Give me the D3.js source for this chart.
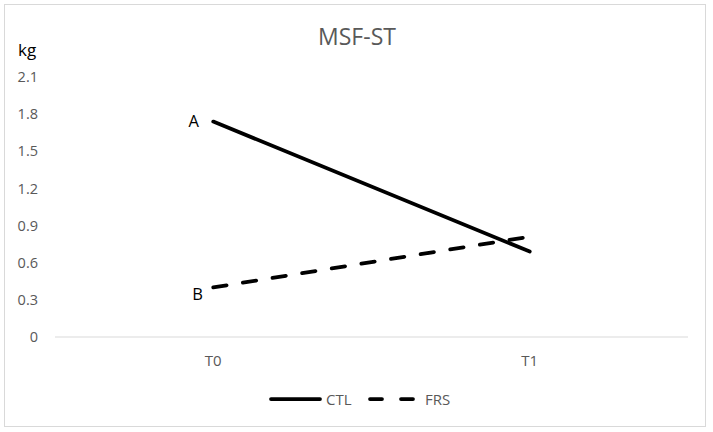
<!DOCTYPE html>
<html>
<head>
<meta charset="utf-8">
<script src="https://d3js.org/d3.v7.min.js"></script>
<style>
  body { margin: 0; background: #fff; }
  text { font-family: "Open Sans", "Liberation Sans", sans-serif; }
</style>
</head>
<body>
<svg width="713" height="432"></svg>
<script>
var categories = ["T0", "T1"];
var yTicks = [0, 0.3, 0.6, 0.9, 1.2, 1.5, 1.8, 2.1];
var ctl = [1.74, 0.69];
var frs = [0.40, 0.81];
var pointLabels = ["A", "B"];

var svg = d3.select("svg");

svg.append("rect")
    .attr("x", 4.5).attr("y", 4.5)
    .attr("width", 701).attr("height", 422)
    .attr("fill", "#fff")
    .attr("stroke", "#d9d9d9");

var x = d3.scaleBand()
    .domain(categories)
    .range([55, 688]);

var y = d3.scaleLinear()
    .domain([0, 2.1])
    .range([337, 77]);

// y axis labels, no line
var yAxis = svg.append("g")
    .attr("transform", "translate(38,0)")
    .call(d3.axisLeft(y).tickValues(yTicks).tickSize(0).tickPadding(0)
        .tickFormat(function(d) { return d === 0 ? "0" : d3.format(".1f")(d); }));
yAxis.select(".domain").remove();
yAxis.selectAll("text")
    .attr("fill", "#595959")
    .attr("font-size", 14.5);

// baseline
svg.append("line")
    .attr("x1", 55).attr("x2", 688)
    .attr("y1", y(0)).attr("y2", y(0))
    .attr("stroke", "#d9d9d9");

var xAxis = svg.append("g")
    .attr("transform", "translate(0," + (y(0) + 18) + ")")
    .call(d3.axisBottom(x).tickSize(0).tickPadding(0));
xAxis.select(".domain").remove();
xAxis.selectAll("text")
    .attr("fill", "#595959")
    .attr("font-size", 15);

var line = d3.line()
    .x(function(d, i) { return x(categories[i]) + x.bandwidth() / 2; })
    .y(function(d) { return y(d); });

svg.append("path")
    .datum(ctl)
    .attr("d", line)
    .attr("fill", "none")
    .attr("stroke", "#000")
    .attr("stroke-width", 3.75)
    .attr("stroke-linecap", "round");

svg.append("path")
    .datum(frs)
    .attr("d", line)
    .attr("fill", "none")
    .attr("stroke", "#000")
    .attr("stroke-width", 3.75)
    .attr("stroke-linecap", "round")
    .attr("stroke-dasharray", "13.5,16.5");

// point labels at T0
var x0 = x(categories[0]) + x.bandwidth() / 2;
svg.append("text")
    .attr("x", 199).attr("y", 127)
    .attr("text-anchor", "end")
    .attr("font-size", 16.5)
    .attr("fill", "#000")
    .text(pointLabels[0]);
svg.append("text")
    .attr("x", 203).attr("y", 300)
    .attr("text-anchor", "end")
    .attr("font-size", 16.5)
    .attr("fill", "#000")
    .text(pointLabels[1]);

// title and unit
svg.append("text")
    .attr("x", 357).attr("y", 45)
    .attr("text-anchor", "middle")
    .attr("font-size", 23)
    .attr("fill", "#595959")
    .text("MSF-ST");

svg.append("text")
    .attr("x", 18).attr("y", 56)
    .attr("font-size", 17)
    .attr("fill", "#000")
    .text("kg");

// legend
var legend = svg.append("g").attr("transform", "translate(0,399)");
legend.append("line")
    .attr("x1", 271).attr("x2", 320).attr("y1", 0).attr("y2", 0)
    .attr("stroke", "#000").attr("stroke-width", 3.75).attr("stroke-linecap", "round");
legend.append("text")
    .attr("x", 326).attr("y", 6)
    .attr("font-size", 15).attr("fill", "#595959")
    .text("CTL");
legend.append("line")
    .attr("x1", 370).attr("x2", 416).attr("y1", 0).attr("y2", 0)
    .attr("stroke", "#000").attr("stroke-width", 3.75).attr("stroke-linecap", "round")
    .attr("stroke-dasharray", "12,19");
legend.append("text")
    .attr("x", 425).attr("y", 6)
    .attr("font-size", 15).attr("fill", "#595959")
    .text("FRS");
</script>
</body>
</html>
